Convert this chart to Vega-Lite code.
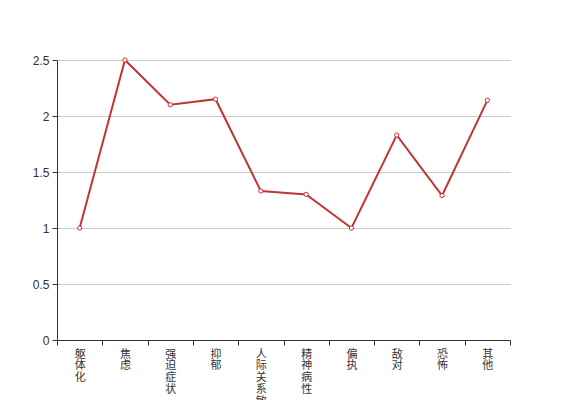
{
  "$schema": "https://vega.github.io/schema/vega-lite/v6.json",
  "width": 453,
  "height": 280,
  "autosize": {"type": "none"},
  "padding": {"left": 57, "top": 60, "right": 57, "bottom": 60},
  "background": "white",
  "config": {
    "view": {"stroke": null},
    "font": "Noto Sans CJK SC",
    "axis": {
      "labelFontSize": 12,
      "labelColor": "#333333",
      "domainColor": "#333333",
      "tickColor": "#333333",
      "tickSize": 5,
      "title": null
    }
  },
  "data": {
    "values": [
      {"category": "躯体化", "value": 1.0},
      {"category": "焦虑", "value": 2.5},
      {"category": "强迫症状", "value": 2.1},
      {"category": "抑郁", "value": 2.15},
      {"category": "人际关系敏感", "value": 1.33},
      {"category": "精神病性", "value": 1.3},
      {"category": "偏执", "value": 1.0},
      {"category": "敌对", "value": 1.83},
      {"category": "恐怖", "value": 1.29},
      {"category": "其他", "value": 2.14}
    ]
  },
  "encoding": {
    "x": {
      "field": "category",
      "type": "nominal",
      "sort": null,
      "scale": {"type": "band", "paddingInner": 0, "paddingOuter": 0},
      "axis": {
        "labelAngle": 0,
        "labelFont": "Noto Sans CJK SC",
        "labelFontSize": 11,
        "labelExpr": "split(datum.label, '')",
        "labelLineHeight": 11.8,
        "labelBaseline": "top",
        "labelPadding": 3,
        "tickBand": "extent",
        "grid": false,
        "labelOverlap": false,
        "labelBound": false
      }
    },
    "y": {
      "field": "value",
      "type": "quantitative",
      "scale": {"domain": [0, 2.5]},
      "axis": {
        "values": [0, 0.5, 1, 1.5, 2, 2.5],
        "format": "~g",
        "labelFont": "Liberation Sans",
        "grid": true,
        "gridColor": "#cccccc",
        "labelPadding": 3
      }
    }
  },
  "layer": [
    {
      "mark": {"type": "line", "color": "#c23531", "strokeWidth": 2}
    },
    {
      "mark": {"type": "point", "shape": "circle", "filled": true, "fill": "white", "stroke": "#c23531", "strokeWidth": 1, "size": 18, "opacity": 1}
    }
  ]
}
